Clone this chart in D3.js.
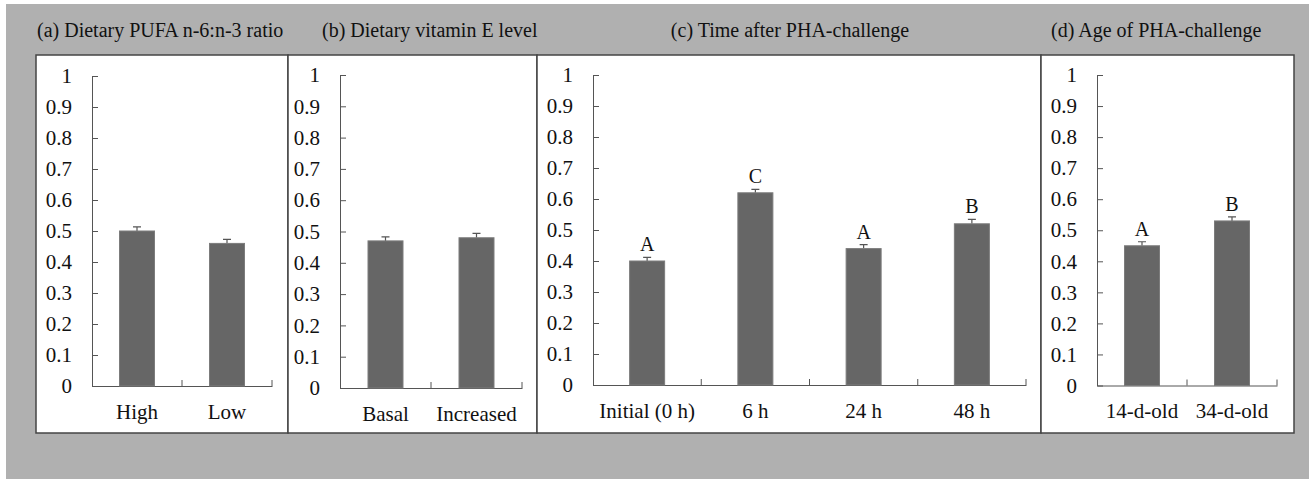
<!DOCTYPE html>
<meta charset="utf-8">
<style>
    body { margin: 0; background: #fff; }
    text { font-family: "Liberation Serif", "Times New Roman", serif; fill: #111; }
    .tick line, .domain { stroke: #555; }
</style>
<svg width="1309" height="479"></svg>
<script src="https://d3js.org/d3.v7.min.js"></script>
<script>

    // values
    var yTicks = [0, 0.1, 0.2, 0.3, 0.4, 0.5, 0.6, 0.7, 0.8, 0.9, 1];

    var ratioCats = ["High", "Low"];
    var ratioMeans = [0.50, 0.46];
    var ratioSE = [0.013, 0.013];

    var vitECats = ["Basal", "Increased"];
    var vitEMeans = [0.47, 0.48];
    var vitESE = [0.013, 0.014];

    var timeCats = ["Initial (0 h)", "6 h", "24 h", "48 h"];
    var timeMeans = [0.40, 0.62, 0.44, 0.52];
    var timeSE = [0.012, 0.011, 0.013, 0.014];
    var timeLetters = ["A", "C", "A", "B"];

    var ageCats = ["14-d-old", "34-d-old"];
    var ageMeans = [0.45, 0.53];
    var ageSE = [0.013, 0.013];
    var ageLetters = ["A", "B"];

    var titles = ["(a) Dietary PUFA n-6:n-3 ratio", "(b) Dietary vitamin E level",
                  "(c) Time after PHA-challenge", "(d) Age of PHA-challenge"];

    // layout of the four boxes
    var panels = [
        {cats: ratioCats, means: ratioMeans, se: ratioSE, letters: null,
         box: [36, 288], axis: [92, 272], y0: 386, y1: 76, titleX: 37, anchor: "start"},
        {cats: vitECats, means: vitEMeans, se: vitESE, letters: null,
         box: [288, 537], axis: [340, 522], y0: 388, y1: 75, titleX: 322, anchor: "start"},
        {cats: timeCats, means: timeMeans, se: timeSE, letters: timeLetters,
         box: [537, 1041], axis: [593, 1026], y0: 385, y1: 75, titleX: 790, anchor: "middle"},
        {cats: ageCats, means: ageMeans, se: ageSE, letters: ageLetters,
         box: [1041, 1294], axis: [1097, 1277], y0: 385.5, y1: 75, titleX: 1051, anchor: "start"}
    ];

    var svg = d3.select("svg"),
        boxTop = 55, boxBottom = 433, barWidth = 35;

    svg.append("rect")
        .attr("x", 6).attr("y", 4)
        .attr("width", 1303).attr("height", 475)
        .attr("fill", "#b0b0b0");

    panels.forEach(function(p, k) {
        svg.append("rect")
            .attr("x", p.box[0]).attr("y", boxTop)
            .attr("width", p.box[1] - p.box[0]).attr("height", boxBottom - boxTop)
            .attr("fill", "#fff")
            .attr("stroke", "#444").attr("stroke-width", 1.5);

        svg.append("text")
            .attr("x", p.titleX).attr("y", 37)
            .attr("text-anchor", p.anchor)
            .style("font-size", "20px")
            .text(titles[k]);

        var x = d3.scaleBand().domain(p.cats).range(p.axis).padding(0);
        var y = d3.scaleLinear().domain([0, 1]).range([p.y0, p.y1]);

        var g = svg.append("g");

        // y axis, ticks pointing inward
        g.append("g")
            .attr("transform", "translate(" + p.axis[0] + ",0)")
            .call(d3.axisLeft(y).tickValues(yTicks)
                .tickFormat(function(d) { return String(d); })
                .tickSizeInner(-6).tickSizeOuter(0).tickPadding(20))
            .call(function(a) {
                a.selectAll("text").style("font-size", "21px").attr("fill", "#111");
                a.select(".domain").attr("stroke", "#555");
            });

        // x axis with labels under the bars
        g.append("g")
            .attr("transform", "translate(0," + p.y0 + ")")
            .call(d3.axisBottom(x).tickSize(0).tickPadding(18))
            .call(function(a) {
                a.selectAll("text").style("font-size", "21px").attr("fill", "#111");
                a.select(".domain").attr("stroke", "#555");
            });

        // boundary ticks between categories
        g.selectAll(".btick")
            .data(p.cats)
            .enter().append("line")
            .attr("class", "btick")
            .attr("x1", function(d) { return x(d) + x.bandwidth(); })
            .attr("x2", function(d) { return x(d) + x.bandwidth(); })
            .attr("y1", p.y0).attr("y2", p.y0 - 6)
            .attr("stroke", "#555");

        var rows = p.cats.map(function(c, i) {
            return {cat: c, mean: p.means[i], se: p.se[i], letter: p.letters ? p.letters[i] : null};
        });

        // error whiskers (upper half)
        g.selectAll(".err")
            .data(rows)
            .enter().append("path")
            .attr("class", "err")
            .attr("fill", "none").attr("stroke", "#555").attr("stroke-width", 1.2)
            .attr("d", function(d) {
                var cx = x(d.cat) + x.bandwidth() / 2;
                return "M" + cx + "," + y(d.mean) + "V" + y(d.mean + d.se) +
                       "M" + (cx - 4) + "," + y(d.mean + d.se) + "H" + (cx + 4);
            });

        g.selectAll(".bar")
            .data(rows)
            .enter().append("rect")
            .attr("class", "bar")
            .attr("x", function(d) { return x(d.cat) + x.bandwidth() / 2 - barWidth / 2; })
            .attr("y", function(d) { return y(d.mean); })
            .attr("width", barWidth)
            .attr("height", function(d) { return y(0) - y(d.mean); })
            .attr("fill", "#666")
            .attr("stroke", "#7c7c7c");

        g.selectAll(".letter")
            .data(rows.filter(function(d) { return d.letter; }))
            .enter().append("text")
            .attr("class", "letter")
            .attr("x", function(d) { return x(d.cat) + x.bandwidth() / 2; })
            .attr("y", function(d) { return y(d.mean + d.se) - 6; })
            .attr("text-anchor", "middle")
            .style("font-size", "20px")
            .text(function(d) { return d.letter; });
    });

</script>
